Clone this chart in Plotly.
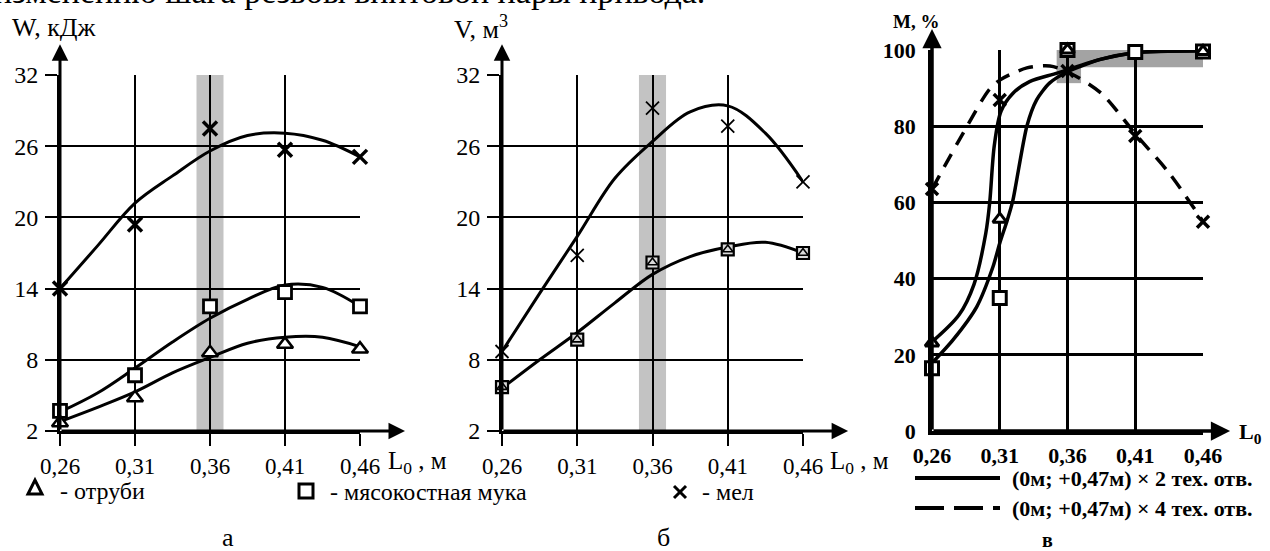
import plotly.graph_objects as go

# ---------------- data ----------------
X = [0.26, 0.31, 0.36, 0.41, 0.46]
X_LABELS = ["0,26", "0,31", "0,36", "0,41", "0,46"]
Y_TICKS_AB = [2, 8, 14, 20, 26, 32]
Y_TICKS_C = [0, 20, 40, 60, 80, 100]

# panel а : W, кДж
A_CHALK = [14.0, 19.4, 27.5, 25.7, 25.1]
A_MEAL = [3.7, 6.7, 12.5, 13.7, 12.5]
A_BRAN = [2.7, 4.8, 8.6, 9.3, 8.9]
FIT_X = [0.26, 0.285, 0.31, 0.335, 0.36, 0.385, 0.41, 0.435, 0.46]
A_CHALK_FIT = [14.0, 17.6, 21.2, 23.5, 25.6, 26.9, 27.1, 26.5, 25.1]
A_MEAL_FIT = [3.6, 5.2, 7.3, 9.5, 11.5, 13.1, 14.3, 14.1, 12.5]
A_BRAN_FIT = [2.8, 4.0, 5.3, 6.9, 8.2, 9.4, 9.9, 9.9, 9.1]

# panel б : V, м3
B_CHALK = [8.7, 16.8, 29.2, 27.7, 23.0]
B_MEAL = [5.7, 9.7, 16.2, 17.3, 17.0]
B_CHALK_FIT = [8.7, 13.6, 18.4, 23.3, 26.4, 28.9, 29.4, 27.1, 23.0]
B_MEAL_FIT = [5.6, 8.0, 10.3, 12.8, 15.2, 16.7, 17.5, 17.9, 17.0]

# panel в : M, %
C_TRI = [23.1, 55.6, 100.0, None, 99.6]
C_SQ = [16.5, 34.9, 100.0, 99.5, 99.6]
C_CROSS = [63.5, 86.9, 94.5, 77.4, 54.9]
C_FIT1_X = [0.26, 0.28, 0.291, 0.2997, 0.3026, 0.306, 0.311, 0.3196, 0.332, 0.353, 0.385, 0.41, 0.46]
C_FIT1_Y = [23.4, 30.5, 38.5, 51.9, 60.0, 75.0, 84.0, 88.6, 91.7, 94.0, 97.6, 99.3, 99.8]
C_FIT2_X = [0.26, 0.2755, 0.293, 0.305, 0.31, 0.3156, 0.3196, 0.33, 0.3372, 0.3467, 0.36, 0.385, 0.41, 0.46]
C_FIT2_Y = [17.8, 23.9, 32.6, 43.1, 49.3, 55.4, 60.4, 80.0, 86.9, 91.3, 94.3, 97.6, 99.3, 99.8]
C_FIT3_X = [0.26, 0.283, 0.302, 0.31, 0.33, 0.347, 0.36, 0.385, 0.41, 0.435, 0.46]
C_FIT3_Y = [63.5, 78.2, 89.5, 92.1, 95.3, 95.8, 94.3, 88.6, 78.0, 67.7, 55.0]

# highlighted zones
A_BAND = [0.351, 0.369]
C_ZONE = [0.352, 0.4666, 95.5, 100.0]
C_ZONE2 = [0.352, 0.370, 91.3, 95.5]

# ---------------- layout helpers ----------------
W, H = 1270, 551
SERIF = "Liberation Serif, Times New Roman, serif"


def px(x):
    return x / W


def py(y):
    return 1 - y / H


fig = go.Figure()


def line_tr(x, y, xa, ya, width=3, dash="solid", smoothing=1.0):
    fig.add_trace(go.Scatter(x=x, y=y, xaxis=xa, yaxis=ya, mode="lines",
                             line=dict(color="black", width=width, dash=dash,
                                       shape="spline", smoothing=smoothing),
                             hoverinfo="skip", showlegend=False))


def mark_tr(x, y, xa, ya, symbol, size, lw, fill="white"):
    fig.add_trace(go.Scatter(x=x, y=y, xaxis=xa, yaxis=ya, mode="markers",
                             marker=dict(symbol=symbol, size=size, color=fill,
                                         line=dict(color="black", width=lw)),
                             cliponaxis=False, hoverinfo="skip", showlegend=False))


# panel а
line_tr(FIT_X, A_CHALK_FIT, "x", "y")
line_tr(FIT_X, A_MEAL_FIT, "x", "y")
line_tr(FIT_X, A_BRAN_FIT, "x", "y")
mark_tr(X, A_CHALK, "x", "y", "x-thin", 14, 3.5)
mark_tr(X, A_MEAL, "x", "y", "square", 13, 2.8)
mark_tr(X, A_BRAN, "x", "y", "triangle-up", 14, 2.5)

# panel б
line_tr(FIT_X, B_CHALK_FIT, "x2", "y2")
line_tr(FIT_X, B_MEAL_FIT, "x2", "y2")
mark_tr(X, B_CHALK, "x2", "y2", "x-thin", 13, 1.8)
mark_tr(X, B_MEAL, "x2", "y2", "square", 12, 2.2, fill="#d8d8d8")
mark_tr(X, B_MEAL, "x2", "y2", "triangle-up", 9, 1.6, fill="#d8d8d8")

# panel в
line_tr(C_FIT1_X, C_FIT1_Y, "x3", "y3", width=3.5, smoothing=0.9)
line_tr(C_FIT2_X, C_FIT2_Y, "x3", "y3", width=3.5, smoothing=0.7)
line_tr(C_FIT3_X, C_FIT3_Y, "x3", "y3", width=3.5, dash="15px,10px", smoothing=0.8)
mark_tr(X, C_CROSS, "x3", "y3", "x-thin", 12, 3.5)
mark_tr(X, C_SQ, "x3", "y3", "square", 13, 3)
mark_tr(X, C_TRI, "x3", "y3", "triangle-up", 12, 3)

# ---------------- axes ----------------
common_x = dict(tickvals=X, ticktext=X_LABELS, showgrid=True, gridcolor="black",
                zeroline=False, showline=True, linecolor="black", fixedrange=True,
                automargin=False)
common_y = dict(showgrid=True, gridcolor="black", zeroline=False, showline=True,
                linecolor="black", fixedrange=True, automargin=False)

ab_font = dict(family=SERIF, size=23, color="black")
ab_yfont = dict(family=SERIF, size=24, color="black")
c_font = dict(family=SERIF, size=22, color="black", weight="bold")

fig.update_layout(
    width=W, height=H, margin=dict(l=0, r=0, t=0, b=0, autoexpand=False),
    paper_bgcolor="white", plot_bgcolor="rgba(0,0,0,0)",
    font=dict(family=SERIF),
    xaxis=dict(domain=[px(60), px(360)], range=[0.26, 0.46], anchor="y",
               gridwidth=1.5, linewidth=3, ticks="outside", ticklen=12, tickwidth=1.5,
               tickcolor="black", tickfont=ab_font, ticklabelstandoff=0, **common_x),
    yaxis=dict(domain=[py(431), py(75)], range=[2, 32], anchor="x", tickvals=Y_TICKS_AB,
               gridwidth=1.5, linewidth=3, ticks="outside", ticklen=12, tickwidth=1.5,
               tickcolor="black", tickfont=ab_yfont, ticklabelstandoff=2, **common_y),
    xaxis2=dict(domain=[px(502), px(803)], range=[0.26, 0.46], anchor="y2",
                gridwidth=1.5, linewidth=3, ticks="outside", ticklen=12, tickwidth=1.5,
                tickcolor="black", tickfont=ab_font, ticklabelstandoff=0, **common_x),
    yaxis2=dict(domain=[py(431), py(75)], range=[2, 32], anchor="x2", tickvals=Y_TICKS_AB,
                gridwidth=1.5, linewidth=3, ticks="outside", ticklen=12, tickwidth=1.5,
                tickcolor="black", tickfont=ab_yfont, ticklabelstandoff=2, **common_y),
    xaxis3=dict(domain=[px(932), px(1203)], range=[0.26, 0.46], anchor="y3",
                gridwidth=2.5, linewidth=3.5, ticks="", tickfont=c_font,
                ticklabelstandoff=2, **common_x),
    yaxis3=dict(domain=[py(431), py(50)], range=[0, 100], anchor="x3", tickvals=Y_TICKS_C,
                gridwidth=2.5, linewidth=3.5, ticks="", tickfont=c_font,
                ticklabelstandoff=8, **common_y),
)

# ---------------- shapes ----------------
LW = dict(color="black", width=3)
shapes = [
    dict(type="rect", xref="x", yref="y", x0=A_BAND[0], x1=A_BAND[1], y0=2, y1=32,
         fillcolor="#c3c3c3", line=dict(width=0), layer="below"),
    dict(type="rect", xref="x2", yref="y2", x0=A_BAND[0], x1=A_BAND[1], y0=2, y1=32,
         fillcolor="#c3c3c3", line=dict(width=0), layer="below"),
    dict(type="rect", xref="x3", yref="y3", x0=C_ZONE[0], x1=C_ZONE[1], y0=C_ZONE[2], y1=C_ZONE[3],
         fillcolor="#a3a3a3", line=dict(width=0), layer="below"),
    dict(type="rect", xref="x3", yref="y3", x0=C_ZONE2[0], x1=C_ZONE2[1], y0=C_ZONE2[2], y1=C_ZONE2[3],
         fillcolor="#a3a3a3", line=dict(width=0), layer="below"),
    # legend samples, panels а/б
    dict(type="path", xref="paper", yref="paper",
         path="M %f,%f L %f,%f L %f,%f Z" % (px(28), py(494), px(35), py(480), px(42), py(494)),
         line=LW),
    dict(type="rect", xref="paper", yref="paper", x0=px(299), x1=px(313), y0=py(498), y1=py(484),
         line=LW),
    dict(type="line", xref="paper", yref="paper", x0=px(674), x1=px(686), y0=py(486), y1=py(498),
         line=LW),
    dict(type="line", xref="paper", yref="paper", x0=px(674), x1=px(686), y0=py(498), y1=py(486),
         line=LW),
    # legend samples, panel в
    dict(type="line", xref="paper", yref="paper", x0=px(915), x1=px(1000), y0=py(478), y1=py(478),
         line=dict(color="black", width=4)),
    dict(type="line", xref="paper", yref="paper", x0=px(915), x1=px(1000), y0=py(508), y1=py(508),
         line=dict(color="black", width=4, dash="29px,10px")),
]
fig.update_layout(shapes=shapes)

# ---------------- annotations ----------------
ann = []


def arrow(xr, yr, x0, y0, x1, y1, w=3):
    ann.append(dict(xref=xr, yref=yr, axref=xr, ayref=yr, x=x1, y=y1, ax=x0, ay=y0,
                    text="", showarrow=True, arrowhead=2, arrowsize=1.1, arrowwidth=w,
                    arrowcolor="black", standoff=0, startstandoff=0))


arrow("x", "y", 0.26, 2, 0.26, 34.6)
arrow("x", "y", 0.26, 2, 0.49, 2)
arrow("x2", "y2", 0.26, 2, 0.26, 34.6)
arrow("x2", "y2", 0.26, 2, 0.49, 2)
arrow("x3", "y3", 0.26, 0, 0.26, 105.5, 3.5)
arrow("x3", "y3", 0.26, 0, 0.48, 0, 3.5)


def text(x, y, s, size=23, bold=False, xanchor="left", family=SERIF):
    f = dict(family=family, size=size, color="black")
    if bold:
        f["weight"] = "bold"
    ann.append(dict(xref="paper", yref="paper", x=px(x), y=py(y), text=s, showarrow=False,
                    xanchor=xanchor, yanchor="middle", font=f))


text(-8, -8, "изменению шага резьбы винтовой пары привода.", size=34)
text(10, 27, "W, кДж", 26)
text(452, 27, "V, м<sup>3</sup>", 26)
text(891, 22, "М, %", 19, bold=True)
text(386, 462, "L<sub>0</sub> , м", 25)
text(828, 462, "L<sub>0</sub> , м", 25)
text(1237, 433, "L<sub>0</sub>", 22, bold=True)

text(58, 491, "- отруби", 24)
text(328, 492, "- мясокостная мука", 24)
text(700, 492, "- мел", 24)
text(1010, 478, "(0м; +0,47м) × 2 тех. отв.", 22, bold=True)
text(1010, 508, "(0м; +0,47м) × 4 тех. отв.", 22, bold=True)

text(228, 537, "а", 26, xanchor="center")
text(663, 537, "б", 26, xanchor="center")
text(1047, 540, "в", 20, bold=True, xanchor="center")

fig.update_layout(annotations=ann)

fig.write_html("out.html", config={"displayModeBar": False},
               post_script="document.body.style.margin='0';")
